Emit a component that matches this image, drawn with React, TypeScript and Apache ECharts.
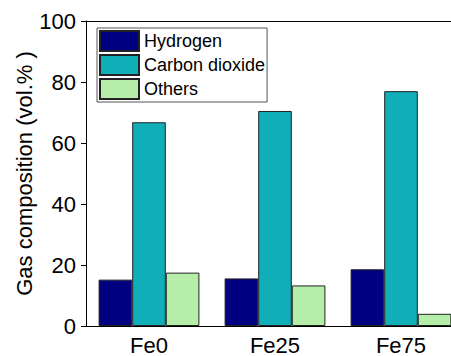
import React, { useEffect, useRef } from "react";
import * as echarts from "echarts";

const categories = ["Fe0", "Fe25", "Fe75"];
const hydrogen = [15.2, 15.6, 18.6];
const carbonDioxide = [66.8, 70.5, 77.0];
const others = [17.5, 13.3, 4.0];
const seriesNames = ["Hydrogen", "Carbon dioxide", "Others"];
const yTitle = "Gas composition (vol.% )";

const FONT = "'Liberation Sans', Arial, sans-serif";

export default function App() {
  const ref = useRef<HTMLDivElement>(null);
  useEffect(() => {
    if (!ref.current) return;
    const chart = echarts.init(ref.current, undefined, { renderer: "svg" });
    const barStyle = (color: string) => ({
      color,
      borderColor: "#222",
      borderWidth: 1,
    });
    const legendText = { fontFamily: FONT, fontSize: 18, color: "#000" };
    chart.setOption({
      animation: false,
      backgroundColor: "#fff",
      textStyle: { fontFamily: FONT },
      grid: {
        left: 86,
        top: 21,
        height: 305,
        width: 378,
        containLabel: false,
        outerBoundsMode: "none",
      },
      legend: {
        orient: "vertical",
        left: 97,
        top: 28,
        padding: 2,
        itemWidth: 39,
        itemHeight: 20,
        itemGap: 2,
        borderColor: "#555",
        borderWidth: 1,
        icon: "rect",
        textStyle: legendText,
        data: seriesNames.map((name) => ({ name, textStyle: legendText })),
      },
      xAxis: [
        {
          type: "category",
          data: categories,
          position: "bottom",
          axisLine: { lineStyle: { color: "#000", width: 1 } },
          axisTick: { alignWithLabel: true, length: 5, lineStyle: { color: "#000" } },
          axisLabel: { fontSize: 22, color: "#000", margin: 8, fontFamily: FONT },
        },
        {
          type: "category",
          data: categories,
          position: "top",
          axisLine: { lineStyle: { color: "#000", width: 1 } },
          axisTick: { show: false },
          axisLabel: { show: false },
        },
      ],
      yAxis: {
        type: "value",
        min: 0,
        max: 100,
        interval: 20,
        name: yTitle,
        nameLocation: "middle",
        nameGap: 51,
        nameMoveOverlap: false,
        nameTextStyle: { fontSize: 22, color: "#000", fontFamily: FONT },
        axisLine: { show: true, lineStyle: { color: "#000", width: 1 } },
        axisTick: { show: true, length: 5, lineStyle: { color: "#000" } },
        axisLabel: { fontSize: 22, color: "#000", margin: 10, fontFamily: FONT },
        splitLine: { show: false },
      },
      series: [
        {
          name: seriesNames[0],
          type: "bar",
          data: hydrogen,
          barGap: "0%",
          barCategoryGap: "20%",
          itemStyle: barStyle("#000080"),
        },
        {
          name: seriesNames[1],
          type: "bar",
          data: carbonDioxide,
          barGap: "0%",
          barCategoryGap: "20%",
          itemStyle: barStyle("#10AEB8"),
        },
        {
          name: seriesNames[2],
          type: "bar",
          data: others,
          barGap: "0%",
          barCategoryGap: "20%",
          itemStyle: barStyle("#B5EEA8"),
        },
      ],
    });
    return () => chart.dispose();
  }, []);
  return (
    <div
      ref={ref}
      style={{ position: "fixed", left: 0, top: 0, width: 451, height: 356 }}
    />
  );
}
